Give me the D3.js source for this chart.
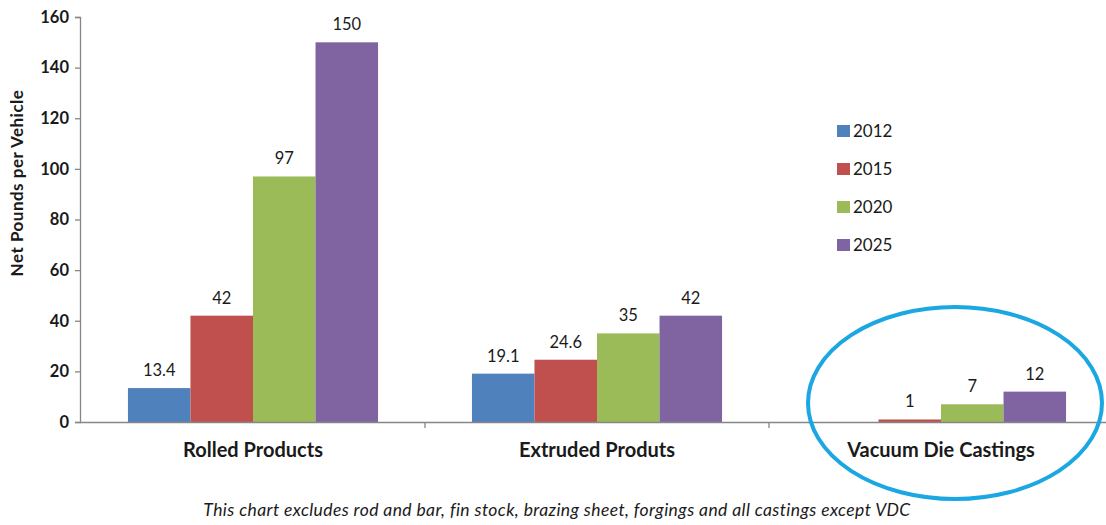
<!DOCTYPE html>
<html>
<head>
<meta charset="utf-8">
<script src="https://cdn.jsdelivr.net/npm/d3@7"></script>
<style>
  html, body { margin: 0; padding: 0; background: #fff; }
  svg { display: block; }
  text { font-family: Lato, "Open Sans", sans-serif; fill: #1a1a1a; }
</style>
</head>
<body>
<svg id="chart" width="1106" height="525"></svg>
<script>
// Aluminium content per vehicle, by product form and year
const categories = ["Rolled Products", "Extruded Produts", "Vacuum Die Castings"];
const years = ["2012", "2015", "2020", "2025"];
const values2012 = [13.4, 19.1, null];
const values2015 = [42, 24.6, 1];
const values2020 = [97, 35, 7];
const values2025 = [150, 42, 12];
const yTicks = [0, 20, 40, 60, 80, 100, 120, 140, 160];
const colors = ["#4f81bd", "#c0504d", "#9bbb59", "#8064a2"];
const yTitle = "Net Pounds per Vehicle";
const footnote = "This chart excludes rod and bar, fin stock, brazing sheet, forgings and all castings except VDC";

const seriesValues = [values2012, values2015, values2020, values2025];
const rows = [];
categories.forEach((c, ci) => {
  years.forEach((yr, si) => {
    const v = seriesValues[si][ci];
    if (v !== null) rows.push({ category: c, year: yr, value: v, color: colors[si] });
  });
});

const svg = d3.select("#chart");
const plotLeft = 81, plotRight = 1113, plotTop = 17, plotBottom = 422;

const y = d3.scaleLinear().domain([0, 160]).range([plotBottom, plotTop]);

const x0 = d3.scaleBand().domain(categories).range([plotLeft, plotRight])
  .paddingInner(0.273).paddingOuter(0.1365);
const x1 = d3.scaleBand().domain(years).range([0, x0.bandwidth()]);

// y axis
const yAxis = svg.append("g").attr("transform", `translate(${plotLeft - 1},0)`)
  .call(d3.axisLeft(y).tickValues(yTicks).tickSize(5).tickPadding(6));
yAxis.select(".domain").attr("stroke", "#868686").attr("stroke-width", 1.3);
yAxis.selectAll(".tick line").attr("stroke", "#868686").attr("stroke-width", 1.3);
yAxis.selectAll(".tick text").attr("font-size", 16.5).attr("font-weight", "bold")
  .attr("font-family", "Lato, sans-serif").attr("fill", "#1a1a1a");

// bars
svg.append("g").selectAll("rect").data(rows).join("rect")
  .attr("x", d => x0(d.category) + x1(d.year))
  .attr("width", x1.bandwidth())
  .attr("y", d => y(d.value))
  .attr("height", d => y(0) - y(d.value))
  .attr("fill", d => d.color);

// value labels
svg.append("g").selectAll("text").data(rows).join("text")
  .attr("x", d => x0(d.category) + x1(d.year) + x1.bandwidth() / 2)
  .attr("y", d => y(d.value) - 12)
  .attr("text-anchor", "middle")
  .attr("font-size", 16.5)
  .text(d => d.value);

// x axis with ticks at category boundaries
const xAxisG = svg.append("g");
xAxisG.append("line")
  .attr("x1", plotLeft - 1).attr("x2", 1106)
  .attr("y1", plotBottom + 0.5).attr("y2", plotBottom + 0.5)
  .attr("stroke", "#868686").attr("stroke-width", 1.3);
const step = x0.step();
const boundaries = categories.slice(1).map(c => x0(c) - x0.paddingInner() * step / 2);
xAxisG.selectAll("line.tick").data(boundaries).join("line")
  .attr("class", "tick")
  .attr("x1", d => d).attr("x2", d => d)
  .attr("y1", plotBottom).attr("y2", plotBottom + 6)
  .attr("stroke", "#868686").attr("stroke-width", 1.3);
xAxisG.selectAll("text").data(categories).join("text")
  .attr("x", d => x0(d) + x0.bandwidth() / 2)
  .attr("y", 457)
  .attr("text-anchor", "middle")
  .attr("font-size", 20)
  .attr("font-weight", "bold")
  .text(d => d);

// y axis title
svg.append("text")
  .attr("transform", "translate(23,183) rotate(-90)")
  .attr("text-anchor", "middle")
  .attr("font-size", 17)
  .attr("letter-spacing", 0.5)
  .attr("font-weight", "bold")
  .text(yTitle);

// legend
const legend = svg.append("g").selectAll("g").data(years).join("g")
  .attr("transform", (d, i) => `translate(837,${131 + i * 38})`);
legend.append("rect").attr("x", 0).attr("y", -6).attr("width", 13).attr("height", 12)
  .attr("fill", (d, i) => colors[i]);
legend.append("text").attr("x", 16).attr("y", 6)
  .attr("font-size", 17).text(d => d);

// highlight ring around the die-casting group
svg.append("ellipse")
  .attr("cx", 955).attr("cy", 403).attr("rx", 147).attr("ry", 96)
  .attr("fill", "none").attr("stroke", "#1ba7e1").attr("stroke-width", 4);

// footnote
svg.append("text")
  .attr("x", 557).attr("y", 516)
  .attr("text-anchor", "middle")
  .attr("font-size", 17.5)
  .attr("letter-spacing", 0.4)
  .attr("font-style", "italic")
  .text(footnote);
</script>
</body>
</html>
